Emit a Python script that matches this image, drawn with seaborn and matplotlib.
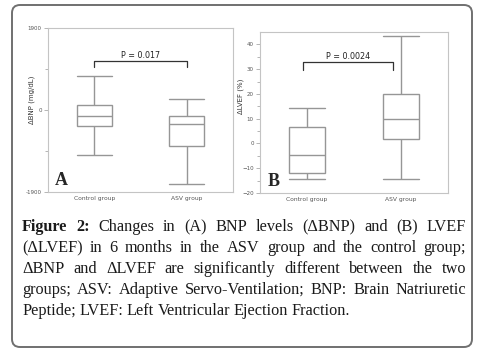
import matplotlib
matplotlib.use("Agg")
import matplotlib.pyplot as plt
from matplotlib.patches import FancyBboxPatch
from matplotlib.ticker import FixedLocator
import numpy as np
import pandas as pd
import seaborn as sns

# five-number summaries (min, Q1, median, Q3, max)
groups = ["Control group", "ASV group"]
bnp_control = [-1047, -380, -140, 116, 791]
bnp_asv = [-1706, -830, -318, -140, 256]
lvef_control = [-14.4, -12.0, -4.5, 6.7, 14.3]
lvef_asv = [-14.4, 1.9, 10.0, 20.0, 43.3]

bnp_ticks = [-1900, 0, 1900]
lvef_ticks = [-20, -10, 0, 10, 20, 30, 40]
p_bnp = "P = 0.017"
p_lvef = "P = 0.0024"

caption_lines = [
    "Figure 2: Changes in (A) BNP levels (\u0394BNP) and (B) LVEF",
    "(\u0394LVEF) in 6 months in the ASV group and the control group;",
    "\u0394BNP and \u0394LVEF are significantly different between the two",
    "groups; ASV: Adaptive Servo-Ventilation; BNP: Brain Natriuretic",
    "Peptide; LVEF: Left Ventricular Ejection Fraction.",
]

sns.set_style("white")
plt.rcParams["font.family"] = ["DejaVu Sans"]

W, H = 478, 355
fig = plt.figure(figsize=(W / 100, H / 100), dpi=100)
fig.patch.set_facecolor("white")

GREY = "#969696"
BOX_W = 0.38


def px_axes(left, top, right, bottom):
    return fig.add_axes([left / W, 1 - bottom / H, (right - left) / W, (bottom - top) / H])


def draw_panel(ax, control, asv, ylim, ticks, minor, ylabel, label_xy, letter, ptext, br, text_y):
    df = pd.DataFrame({
        "group": [groups[0]] * len(control) + [groups[1]] * len(asv),
        "value": control + asv,
    })
    sns.boxplot(data=df, x="group", y="value", order=groups, ax=ax,
                whis=(0, 100), width=BOX_W, color="white", saturation=1,
                linecolor=GREY, linewidth=1.0, showfliers=False)
    # caps as wide as the boxes
    for ln in ax.lines:
        x = np.asarray(ln.get_xdata(), dtype=float)
        y = np.asarray(ln.get_ydata(), dtype=float)
        if len(x) == 2 and y[0] == y[1] and x[0] != x[1]:
            c = x.mean()
            ln.set_xdata([c - BOX_W / 2, c + BOX_W / 2])
    ax.set_xlim(-0.5, 1.5)
    ax.set_ylim(*ylim)
    ax.set_yticks(ticks)
    ax.yaxis.set_minor_locator(FixedLocator(minor))
    ax.set_xlabel("")
    ax.set_ylabel(ylabel, fontsize=5, color="#333333")
    ax.yaxis.set_label_coords(*label_xy)
    ax.tick_params(axis="y", which="major", length=3, width=0.6, color="#aaaaaa",
                   labelsize=4, labelcolor="#555555", pad=1.5, left=True)
    ax.tick_params(axis="y", which="minor", length=2, width=0.6, color="#aaaaaa", left=True)
    ax.tick_params(axis="x", length=0, labelsize=4.3, labelcolor="#555555", pad=3)
    for s in ax.spines.values():
        s.set_visible(True)
        s.set_color("#c4c4c4")
        s.set_linewidth(0.8)
    x0, x1, ytop, yend = br
    ax.plot([x0, x0, x1, x1], [yend, ytop, ytop, yend], color="#333333", lw=0.9)
    ax.text((x0 + x1) / 2, text_y, ptext, ha="center", va="bottom", fontsize=5.8,
            color="#222222")
    ax.text(0.038, 0.02, letter, transform=ax.transAxes, fontsize=13, fontweight="bold",
            family="Liberation Serif", ha="left", va="bottom")


ax_a = px_axes(48, 28, 233, 192)
draw_panel(ax_a, bnp_control, bnp_asv, (-1900, 1900), bnp_ticks, [-950, 950],
           "\u0394BNP (mg/dL)", (-0.07, 0.56), "A", p_bnp, (0, 1, 1135, 996), 1170)
ax_a.set_yticklabels([str(t) for t in bnp_ticks])

ax_b = px_axes(260, 32, 448, 193)
draw_panel(ax_b, lvef_control, lvef_asv, (-20, 45), lvef_ticks,
           [-15, -5, 5, 15, 25, 35],
           "\u0394LVEF (%)", (-0.085, 0.6), "B", p_lvef, (-0.04, 0.91, 32.7, 29.7), 33.3)

# rounded outer frame
frame = FancyBboxPatch((12 / 100, (H - 347) / 100), 460 / 100, 342 / 100,
                       boxstyle="round,pad=0,rounding_size=0.08",
                       transform=fig.dpi_scale_trans, fill=False,
                       edgecolor="#707070", linewidth=1.4)
fig.patches.append(frame)

# justified caption
renderer = fig.canvas.get_renderer()
CAP_FS = 11.7
LEFT, RIGHT = 22, 466
line_y = [231, 252, 273, 294, 315]


def word_artist(word, x, y, bold=False):
    return fig.text(x / W, 1 - y / H, word, fontsize=CAP_FS, family="Liberation Serif",
                    fontweight="bold" if bold else "normal", color="#1a1a1a",
                    ha="left", va="baseline")


for i, line in enumerate(caption_lines):
    words = line.split(" ")
    arts = [word_artist(w, 0, line_y[i], bold=(i == 0 and j < 2)) for j, w in enumerate(words)]
    widths = [a.get_window_extent(renderer).width for a in arts]
    if i < len(caption_lines) - 1:
        gap = (RIGHT - LEFT - sum(widths)) / (len(words) - 1)
    else:
        gap = 3.6
    x = LEFT
    for a, w in zip(arts, widths):
        a.set_x(x / W)
        x += w + gap

fig.savefig("out.png", dpi=100, facecolor="white")
